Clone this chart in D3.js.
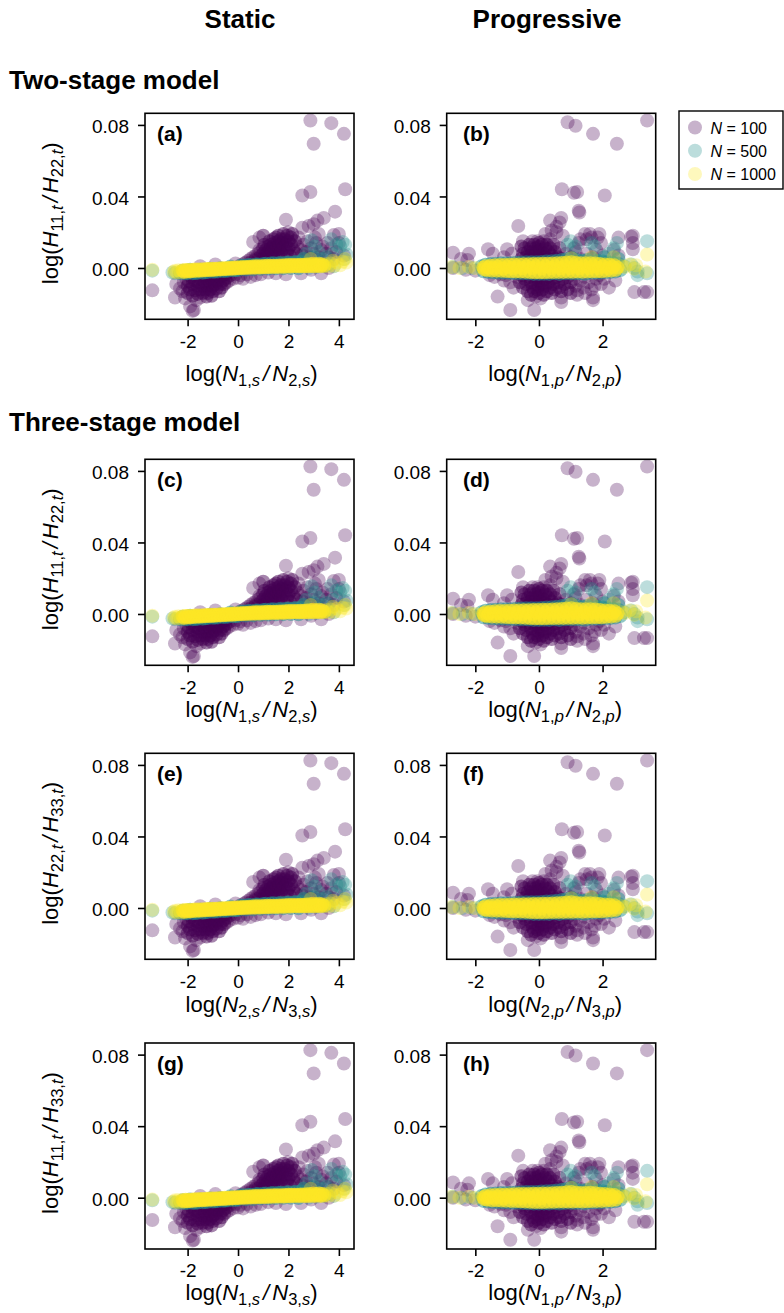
<!DOCTYPE html>
<html><head><meta charset="utf-8">
<script src="https://cdn.jsdelivr.net/npm/d3@7/dist/d3.min.js"></script>
<style>html,body{margin:0;padding:0;background:#fff}svg{display:block;font-family:"Liberation Sans",Arial,sans-serif}</style>
</head><body><svg id="c" width="784" height="1313"></svg>
<script>
// Each point: [log ratio of N, log ratio of H x 1000]
const staticN100 = [[2.87,82.5],[3.7,81],[4.2,75],[3,69.5],[2.55,40.5],[2.87,42.5],[4.25,44],[3.85,31.5],[1.9,27],[3.4,28],[3.15,26.5],[3,24.5],[2.8,23.5],[2.55,22.5],[3.2,19],[3.8,18.5],[4,19],[0.6,14.5],[0.85,17],[1,18],[-3.4,-12.5],
[0.3,3],[0.4,4],[0.5,5],[0.5,3],[0.6,6],[0.65,4],[0.7,7],[0.7,5],[0.8,8],[0.8,5],[0.85,10],[0.9,6.5],[0.9,9],[1,8],[1,11],[1,5],[1.05,13],[1.1,7],[1.1,10],[1.15,6],[1.2,12],[1.2,9],[1.25,15],[1.3,7],[1.3,11],[1.3,13],[1.35,9],[1.4,16],[1.4,6],[1.4,12],[1.45,14],[1.5,8],[1.5,10],[1.5,17],[1.55,12],[1.6,15],[1.6,7],[1.6,18],[1.65,11],[1.65,13],[1.7,9],[1.7,16],[1.75,14],[1.8,19],[1.8,11],[1.8,7],[1.85,16],[1.9,13],[1.95,18],[1.95,9],[2,15],[2,20],[2,11],[2.05,7],[2.1,13],[2.1,17],[2.15,19],[2.2,10],[2.25,15],[2.3,8],[2.35,12],[2.4,17],[2.5,10],[2.55,7],[2.6,13],[2.7,9],[2.8,6],[2.9,11],[3,8],[3.1,14],[3.2,6],[3.3,10],[3.5,8],[3.6,6],[3.7,11],[3.9,9],[4,14],[4.2,7],[2.75,15],[3.05,17],[3.35,12],[3.55,14],[2.65,5],[3.15,4.5],[3.8,5],
[-2.45,-9],[-2.5,-16.5],[-2.3,-11.5],[-2.2,-13],[-2.15,-8],[-2.1,-17],[-2.05,-6],[-2,-10],[-2,-14],[-1.95,-7.5],[-1.9,-12],[-1.9,-21.5],[-1.85,-5],[-1.8,-24],[-1.8,-9],[-1.8,-15.5],[-1.75,-23.5],[-1.7,-7],[-1.7,-12.5],[-1.65,-18],[-1.6,-5],[-1.6,-10],[-1.6,-14.5],[-1.55,-8],[-1.5,-12],[-1.5,-16.5],[-1.45,-6],[-1.4,-10],[-1.4,-14],[-1.35,-4.5],[-1.3,-8],[-1.3,-12],[-1.25,-16],[-1.2,-6],[-1.2,-10],[-1.2,-14],[-1.15,-5],[-1.1,-8],[-1.1,-12],[-1.05,-15.5],[-1,-4.5],[-1,-7],[-1,-10],[-1,-13],[-0.95,-5.5],[-0.9,-9],[-0.85,-11.5],[-0.8,-4],[-0.8,-7],[-0.75,-13],[-0.7,-5],[-0.7,-9],[-0.65,-11],[-0.6,-4],[-0.6,-7],[-0.55,-9],[-0.5,-3.5],[-0.5,-6],[-0.45,-8],[-0.4,-5],[-0.35,-7],[-0.3,-4],[-0.2,-6],[-0.1,-3.5],[0,-5.5],[0.1,-4],[0.2,-6],[0.35,-3.5],[0.5,-5],[0.7,-4],[0.9,-3.5],[1.2,-2.5],[1.5,-3],[1.9,-3.5],[2.5,-3],[3.3,-3],[-0.9,2],[-0.1,2.5],[0.1,1.5],[0.25,2.5],[-1.5,1],[2.9,-1],[3.6,0]];

const staticN500 = [[-3.4,-1.5],[-2.6,-2.5],[-2.5,-2.9],[-2.3,-2.9],[-2.2,-1.5],[-2.1,-3],[-2,-2.9],[-1.9,-1],[-1.8,-2.9],[-1.7,-2.8],[-1.6,-2.7],[-1.5,-1],[-1.4,-2.6],[-1.3,-2.4],[-1.2,-2.3],[-1.1,-0.5],[-1,-2.1],[-0.9,-2],[-0.8,-1.9],[-0.7,-0.2],[-0.6,-1.7],[-0.5,-1.6],[-0.4,-1.5],[-0.3,0.8],[-0.2,-1.3],[-0.1,-1.2],[0,-1.1],[0.1,1.2],[0.2,1.4],[0.3,-0.9],[0.4,1.6],[0.5,1.7],[0.6,-0.7],[0.7,1.9],[0.8,2],[0.9,-0.4],[1,2.2],[1.1,2.3],[1.2,-0.3],[1.3,2.5],[1.4,2.6],[1.5,-0.2],[1.6,2.7],[1.7,2.8],[1.8,-0.1],[1.9,2.9],[2,3],[2.1,0],[2.2,3.1],[2.3,3.3],[2.4,-0.2],[2.5,3.4],[2.6,5],[2.7,8],[2.8,0],[2.92,15.5],[3,6],[3.05,12],[3.1,0.5],[3.2,9],[3.3,5],[3.4,1],[3.5,6],[3.6,2],[3.7,16],[3.75,8],[3.8,1],[3.9,13],[4.05,12],[4.15,14.5],[4.2,5],[4.25,13],[4.3,7.5]];

const staticN1000 = [[-3.4,-1],[-2.55,-2.2],[-2.5,-1.5],[-2.42,-2.4],[-2.36,-1.3],[-2.28,-2.3],[-2.2,-1.4],[-2.14,-2.2],[-2.08,-1.1],[-2.02,-2],[-1.96,-1.2],[-1.9,-1.9],[-1.84,-1.1],[-1.78,-1.7],[-1.72,-0.9],[-1.66,-1.6],[-1.6,-0.9],[-1.54,-1.5],[-1.48,-0.8],[-1.42,-1.4],[-1.36,-0.7],[-1.3,-1.3],[-1.24,-0.6],[-1.18,-1.2],[-1.12,-0.5],[-1.06,-1.1],[-1,-0.5],[-0.94,-1],[-0.88,-0.4],[-0.82,-0.9],[-0.76,-0.3],[-0.7,-0.8],[-0.64,-0.2],[-0.58,-0.7],[-0.52,-0.1],[-0.46,-0.6],[-0.4,0],[-0.34,-0.5],[-0.28,0.1],[-0.22,-0.4],[-0.16,0.2],[-0.1,-0.3],[-0.04,0.3],[0.02,-0.2],[0.08,0.4],[0.14,-0.1],[0.2,0.5],[0.26,0],[0.32,0.6],[0.38,0.1],[0.44,0.7],[0.5,0.1],[0.56,0.8],[0.62,0.2],[0.68,0.9],[0.74,0.3],[0.8,1],[0.86,0.3],[0.92,1],[0.98,0.4],[1.04,1.1],[1.1,0.4],[1.16,1.2],[1.22,0.5],[1.28,1.2],[1.34,0.5],[1.4,1.3],[1.46,0.6],[1.52,1.3],[1.58,0.6],[1.64,1.4],[1.7,0.7],[1.76,1.4],[1.82,0.7],[1.88,1.5],[1.94,0.8],[2,1.6],[2.06,0.8],[2.12,1.6],[2.18,0.9],[2.24,1.7],[2.3,0.9],[2.36,1.7],[2.42,1],[2.48,1.8],[2.54,0.9],[2.6,1.8],[2.66,1],[2.72,1.9],[2.78,0.9],[2.85,2.1],[2.92,1.1],[2.98,2.3],[3.04,1],[3.1,2],[3.16,1.2],[3.22,2.4],[3.28,1],[3.34,2],[3.42,1.2],[3.5,2.2],[3.6,1],[3.7,2.5],[3.82,1.2],[3.92,3],[4.05,1.5],[4.15,3.5],[4.25,5],[4.3,3],[2.88,5],[3.75,4]];

const progressiveN100 = [[0.9,81.5],[1.15,79.5],[1.7,75],[2.45,69.5],[3.4,82.5],[0.72,44],[1.1,42],[1.2,42.5],[2.07,40.5],[1.25,32],[1.27,31],[-0.65,23.5],[0.35,26.5],[0.7,28],[0.65,25.5],[0.55,23],[0.4,21],[0.55,20],[0.2,19],[0.75,18],
[-2.7,8.5],[-2.45,5],[-2.2,8],[-2.25,4.5],[-1.6,10.5],[-1.45,8],[-1.1,6],[-1,10.5],[-0.85,8],[-0.5,15],[-0.55,12],[-1.3,-16],[-0.9,-23.5],[-0.15,-23.5],[-0.35,-18],[0.7,-16.5],[0.7,-19],[1.7,-18],[1.7,-16.5],[2.2,-11],[3,-13.5],[3.4,-13.5],[3.3,-13.5],[2.95,18],[2.9,17.5],[2.95,14],[2.95,10.5],[2.5,17],[1.45,19],[1.5,16],[1.9,19],[1.85,17],[1.65,17],[1.25,14],[1.95,14],[2.35,10],[2.5,7],[-1.55,-4],[-1.1,-7],[-1.05,-4],[-2.7,0],[-2.3,-1],[-2,-1.5],[-1.4,-5],[-0.9,-8],[-1.2,-3.5],[-0.8,-11],
[-0.55,5],[-0.5,8],[-0.45,11],[-0.4,6],[-0.35,9],[-0.3,13],[-0.3,5],[-0.25,7],[-0.25,11],[-0.2,15],[-0.2,9],[-0.15,5],[-0.15,13],[-0.1,7],[-0.1,11],[-0.05,15],[-0.05,9],[0,5],[0,12],[0,14],[0.05,7],[0.05,10],[0.1,13],[0.1,5],[0.15,15],[0.15,8],[0.2,11],[0.2,6],[0.25,13],[0.3,9],[0.3,5],[0.35,16],[0.35,11],[0.4,7],[0.45,13],[0.5,5],[0.5,9],[0.6,6],[0.65,11],[0.7,5],[0.85,8],[1,6],[1.15,9],[1.3,5],[1.5,8],[1.7,6],[2,7],[1.3,16],[1.6,19],[1.1,11],[1.8,10],
[-0.7,-5],[-0.6,-8],[-0.55,-4],[-0.5,-11],[-0.45,-6],[-0.4,-9],[-0.35,-13],[-0.3,-5],[-0.25,-8],[-0.25,-15],[-0.2,-11],[-0.15,-6],[-0.15,-13],[-0.1,-9],[-0.1,-16],[-0.05,-5],[-0.05,-12],[0,-7],[0,-10],[0,-14],[0.05,-17],[0.05,-5],[0.1,-9],[0.1,-12],[0.15,-15],[0.2,-6],[0.2,-10],[0.25,-13],[0.3,-5],[0.3,-8],[0.35,-11],[0.4,-14],[0.4,-6],[0.45,-9],[0.5,-12],[0.55,-5],[0.6,-8],[0.65,-11],[0.7,-13],[0.75,-6],[0.8,-9],[0.9,-5],[0.9,-12],[1,-8],[1,-14],[1.1,-6],[1.15,-10],[1.2,-12.5],[1.3,-7],[1.4,-11],[1.45,-5],[1.55,-8],[1.65,-12],[1.8,-6],[1.95,-9],[2.05,-6],[1.2,-15],[1.45,-14],[1.75,-10],[2.4,-7],[1.9,-4]];

const progressiveN500 = [[3.4,15],[2.45,14],[2.35,11],[1.65,14],[1.75,12],[1,15],[0.9,13],[1.15,12],[3.1,-4],[3.4,-3],[2.9,2],[3,0],[3.1,-2],[2.2,8],[2.5,5],[2.05,6],[-2.7,0.5],[-2.4,0],[-2.1,0],[-1.8,1],[-1.75,-1.8],[-1.68,1.8],[-1.6,-2.2],[-1.52,2.2],[-1.44,-2.4],[-1.36,2.4],[-1.28,-2.5],[-1.2,2.6],[-1.12,-2.6],[-1.04,2.6],[-0.96,-2.7],[-0.88,2.7],[-0.8,-2.8],[-0.72,2.9],[-0.64,-2.9],[-0.56,3],[-0.48,-3],[-0.4,3.2],[-0.32,-3.1],[-0.24,3.2],[-0.16,-3.3],[-0.08,3.2],[0,-3.3],[0.08,3.4],[0.16,-3.2],[0.24,3.6],[0.32,-3.3],[0.4,3.8],[0.48,-3],[0.56,4],[0.64,-3.3],[0.72,4.4],[0.8,-3],[0.88,5],[0.96,-2.9],[1.04,5.5],[1.12,-3],[1.2,4.5],[1.28,-2.9],[1.36,4],[1.44,-3.2],[1.52,4.5],[1.6,-2.7],[1.68,5],[1.76,-2.6],[1.84,4],[1.92,-2.7],[2,3.6],[2.08,-2.3],[2.16,3.2],[2.24,-2.3],[2.32,3],[2.4,-2],[2.48,2.5],[2.56,-1.2],[2.68,1]];

const progressiveN1000 = [[-2.75,0.5],[-2.5,0],[-2.2,0.5],[-2,0],[3.4,7.5],[3.35,-2],[3.05,1.5],[3,-0.5],[2.85,2],[2.7,0.5],[2.6,1],[-1.75,0.2],[-1.72,-0.8],[-1.68,1],[-1.63,-1.1],[-1.58,0.3],[-1.53,1.3],[-1.48,-1.4],[-1.43,0],[-1.38,1.5],[-1.33,-1.5],[-1.28,0.5],[-1.23,1.6],[-1.18,-1.6],[-1.13,-0.3],[-1.08,1.7],[-1.03,-1.7],[-0.98,0.6],[-0.93,1.8],[-0.88,-1.8],[-0.83,0],[-0.78,1.9],[-0.73,-1.9],[-0.68,0.7],[-0.63,2],[-0.58,-2],[-0.53,-0.2],[-0.48,2.1],[-0.43,-2.1],[-0.38,0.8],[-0.33,2.1],[-0.28,-2.3],[-0.23,0],[-0.18,2.2],[-0.13,-2.4],[-0.08,0.8],[-0.03,2.2],[0.02,-2.4],[0.07,-0.3],[0.12,2.3],[0.17,-2.4],[0.22,0.9],[0.27,2.4],[0.32,-2.3],[0.37,0],[0.42,2.5],[0.47,-2.3],[0.52,1],[0.57,2.6],[0.62,-2.2],[0.67,-0.2],[0.72,2.8],[0.77,-2.2],[0.82,1],[0.87,3],[0.92,-2.1],[0.97,0],[1.02,3.2],[1.07,-2.1],[1.12,1],[1.17,2.8],[1.22,-2],[1.27,-0.2],[1.32,2.6],[1.37,-2.1],[1.42,1],[1.47,2.6],[1.52,-2],[1.57,0],[1.62,2.7],[1.67,-1.9],[1.72,1],[1.77,2.5],[1.82,-1.8],[1.87,0],[1.92,2.2],[1.97,-1.8],[2.02,0.8],[2.07,2],[2.12,-1.6],[2.17,0],[2.22,1.8],[2.27,-1.4],[2.32,0.6],[2.37,1.5],[2.42,-1],[2.47,0.2],[1.02,5.5],[1.65,6],[2.35,6]];

// Regions [xMin,xMax,yMin,yMax] where the reference has so many stacked points that the mark reads as nearly solid
const staticDense = [[[1,2.3,4,19],[-2,-0.5,-16,-3]],[[-2.4,2.6,-4,5.5]],[[-2.2,3.45,-3,3]]];
const progressiveDense = [[[-0.55,0.65,4,14],[-0.6,1.05,-15,-3]],[[-1.8,2.6,-5,7]],[[-1.75,2.5,-3.5,3.5]]];

const ticksXStatic = [-2,0,2,4];
const ticksXProgressive = [-2,0,2];
const ticksY = [0,0.04,0.08];
const seriesColors = ["#440154","#21908C","#FDE725"];
const denseAlpha = [0.48,0.5,0.65];
const legendNames = ["100","500","1000"];
const columnTitles = ["Static","Progressive"];
const sectionTitles = ["Two-stage model","Three-stage model"];

const rows = [
 {top:113.3, xBase:381, labels:["(a)","(b)"], yl:["H","11,","t","H","22,","t"], xl:["N","1,","N","2,"]},
 {top:459.3, xBase:717, labels:["(c)","(d)"], yl:["H","11,","t","H","22,","t"], xl:["N","1,","N","2,"]},
 {top:753.3, xBase:1012, labels:["(e)","(f)"], yl:["H","22,","t","H","33,","t"], xl:["N","2,","N","3,"]},
 {top:1043, xBase:1300, labels:["(g)","(h)"], yl:["H","11,","t","H","33,","t"], xl:["N","1,","N","3,"]}
];
const cols = [
 {left:145, right:354, domain:[-3.69,4.6], ticks:ticksXStatic, sub:"s", data:[staticN100,staticN500,staticN1000], dense:staticDense, labelX:157, xShift:2},
 {left:446.7, right:655.7, domain:[-2.9,3.67], ticks:ticksXProgressive, sub:"p", data:[progressiveN100,progressiveN500,progressiveN1000], dense:progressiveDense, labelX:463, xShift:4}
];
const H = 206, R = 7, A = 0.3;
const svg = d3.select("#c");
const defs = svg.append("defs");

function ratioLabel(sel, a, s, b, t) {
  const sm = 16.5, d = 5;
  sel.append("tspan").text("log(");
  sel.append("tspan").attr("font-style","italic").text(a[0]);
  sel.append("tspan").attr("font-size",sm).attr("dy",d).text(a[1]);
  sel.append("tspan").attr("font-size",sm).attr("font-style","italic").text(s);
  sel.append("tspan").attr("dy",-d).attr("font-style","italic").attr("dx",3).text("/");
  sel.append("tspan").attr("font-style","italic").attr("dx",3).text(b[0]);
  sel.append("tspan").attr("font-size",sm).attr("dy",d).text(b[1]);
  sel.append("tspan").attr("font-size",sm).attr("font-style","italic").text(t);
  sel.append("tspan").attr("dy",-d).text(")");
}

rows.forEach((row,ri)=>{
  const y = d3.scaleLinear().domain([-0.0287,0.0865]).range([row.top+H,row.top]);
  cols.forEach((col,ci)=>{
    const x = d3.scaleLinear().domain(col.domain).range([col.left,col.right]);
    const id = `clip${ri}${ci}`;
    defs.append("clipPath").attr("id",id).append("rect")
      .attr("x",col.left).attr("y",row.top).attr("width",col.right-col.left).attr("height",H);
    const g = svg.append("g").attr("clip-path",`url(#${id})`);
    col.data.forEach((pts,si)=>{
      const inDense = d => col.dense[si].some(b=>d[0]>=b[0]&&d[0]<=b[1]&&d[1]>=b[2]&&d[1]<=b[3]);
      g.append("g").attr("fill",seriesColors[si])
       .selectAll("circle").data(pts).join("circle")
       .attr("fill-opacity",d=>inDense(d)?denseAlpha[si]:A)
       .attr("cx",d=>x(d[0])).attr("cy",d=>y(d[1]/1000)).attr("r",R);
    });
    svg.append("rect").attr("x",col.left).attr("y",row.top).attr("width",col.right-col.left).attr("height",H)
      .attr("fill","none").attr("stroke","#000").attr("stroke-width",1.6);
    const ax = svg.append("g").attr("transform",`translate(0,${row.top+H})`)
      .call(d3.axisBottom(x).tickValues(col.ticks).tickFormat(String).tickSize(7).tickPadding(8));
    const ay = svg.append("g").attr("transform",`translate(${col.left},0)`)
      .call(d3.axisLeft(y).tickValues(ticksY).tickFormat(d=>d.toFixed(2)).tickSize(7).tickPadding(9));
    [ax,ay].forEach(a=>{
      a.select(".domain").remove();
      a.selectAll("line").attr("stroke","#000").attr("stroke-width",1.6);
      a.selectAll("text").attr("font-size",19).attr("fill","#000").attr("font-family","'Liberation Sans',Arial,sans-serif");
    });
    ay.selectAll("text").attr("dy","0.4em");
    svg.append("text").attr("x",col.labelX).attr("y",row.top+28).attr("font-size",21).attr("font-weight","bold").text(row.labels[ci]);
    const xl = row.xl;
    ratioLabel(svg.append("text").attr("x",(col.left+col.right)/2+col.xShift).attr("y",row.xBase).attr("font-size",22).attr("text-anchor","middle"),
      [xl[0],xl[1]],col.sub,[xl[2],xl[3]],col.sub);
  });
  const yl = row.yl;
  ratioLabel(svg.append("text").attr("transform",`translate(58,${row.top+100}) rotate(-90)`).attr("font-size",22).attr("text-anchor","middle"),
    [yl[0],yl[1]],yl[2],[yl[3],yl[4]],yl[5]);
});

svg.append("text").attr("x",240).attr("y",28).attr("text-anchor","middle").attr("font-size",26).attr("font-weight","bold").text(columnTitles[0]);
svg.append("text").attr("x",547).attr("y",28).attr("text-anchor","middle").attr("font-size",26).attr("font-weight","bold").text(columnTitles[1]);
svg.append("text").attr("x",9).attr("y",89).attr("font-size",26).attr("font-weight","bold").text(sectionTitles[0]);
svg.append("text").attr("x",9).attr("y",431).attr("font-size",26).attr("font-weight","bold").text(sectionTitles[1]);

svg.append("rect").attr("x",679).attr("y",111).attr("width",104).attr("height",78).attr("fill","#fff").attr("stroke","#000").attr("stroke-width",1.4);
const ly = d3.scalePoint().domain(legendNames).range([127.5,174]);
legendNames.forEach((n,i)=>{
  svg.append("circle").attr("cx",695).attr("cy",ly(n)).attr("r",R).attr("fill",seriesColors[i]).attr("fill-opacity",A);
  const t = svg.append("text").attr("x",710.5).attr("y",ly(n)+6).attr("font-size",16);
  t.append("tspan").attr("font-style","italic").text("N");
  t.append("tspan").text(" = "+n);
});
</script></body></html>
